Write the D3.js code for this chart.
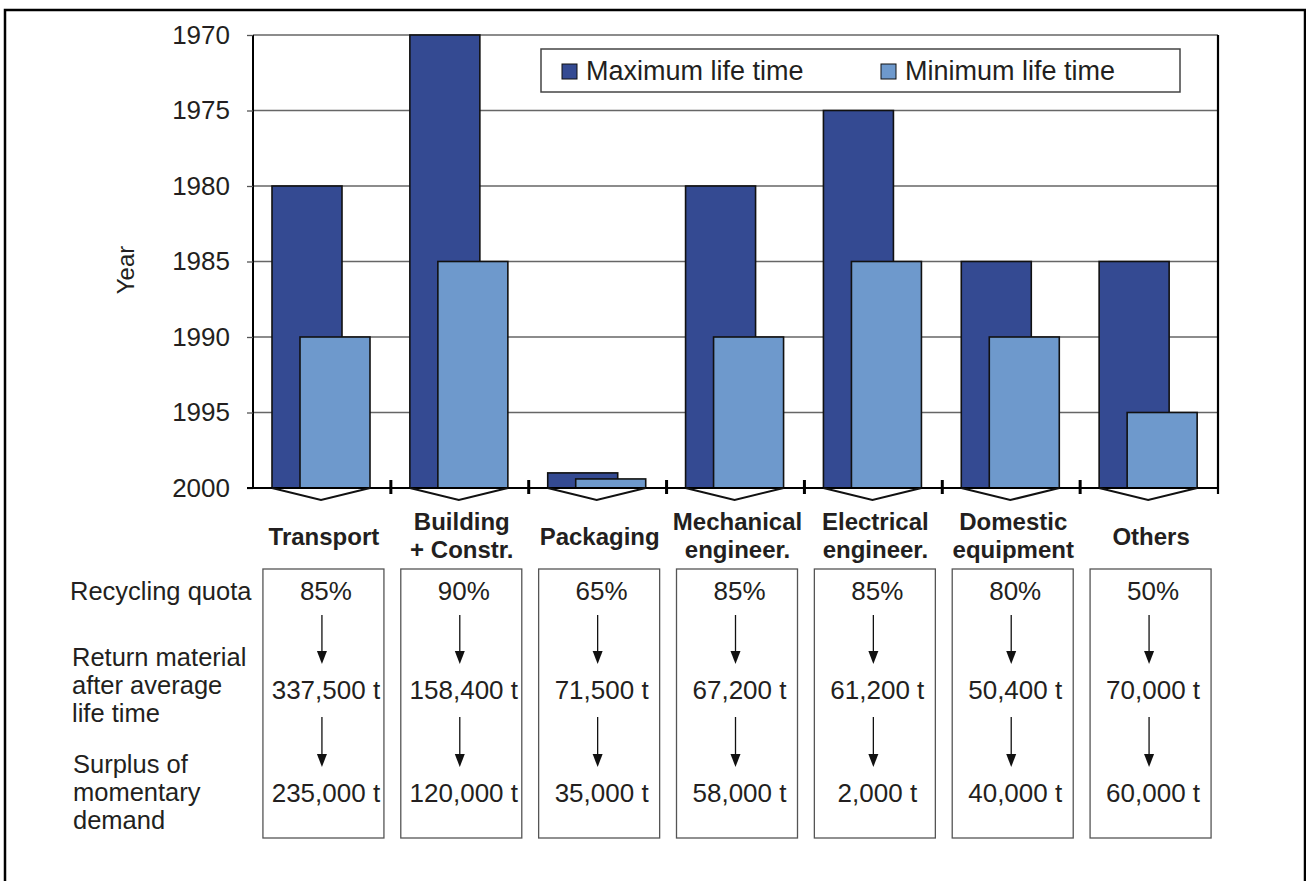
<!DOCTYPE html>
<html>
<head>
<meta charset="utf-8">
<script src="https://cdn.jsdelivr.net/npm/d3@7"></script>
<style>
  body { margin: 0; background: #fff; }
  svg { display: block; font-family: Arial, 'Liberation Sans', sans-serif; }
</style>
</head>
<body>
<div id="chart"></div>
<script>
'use strict'

var categories = [
  ['Transport'],
  ['Building', '+ Constr.'],
  ['Packaging'],
  ['Mechanical', 'engineer.'],
  ['Electrical', 'engineer.'],
  ['Domestic', 'equipment'],
  ['Others']
]
var maxLifeTime = [1980, 1970, 1999, 1980, 1975, 1985, 1985]
var minLifeTime = [1990, 1985, 1999.4, 1990, 1985, 1990, 1995]
var yearTicks = [1970, 1975, 1980, 1985, 1990, 1995, 2000]
var recyclingQuota = ['85%', '90%', '65%', '85%', '85%', '80%', '50%']
var returnMaterial = ['337,500 t', '158,400 t', '71,500 t', '67,200 t', '61,200 t', '50,400 t', '70,000 t']
var surplus = ['235,000 t', '120,000 t', '35,000 t', '58,000 t', '2,000 t', '40,000 t', '60,000 t']
var seriesNames = ['Maximum life time', 'Minimum life time']
var rowLabels = [
  ['Recycling quota'],
  ['Return material', 'after average', 'life time'],
  ['Surplus of', 'momentary', 'demand']
]

var colors = ['#344a92', '#6e99cc']
var ink = '#231f20'

var W = 1306
var H = 881
var plot = { left: 253, right: 1218, top: 35, bottom: 488 }

var svg = d3.select('#chart')
  .append('svg')
  .attr('width', W)
  .attr('height', H)

// outer frame (bottom edge runs off the page)
svg.append('rect')
  .attr('x', 5)
  .attr('y', 10)
  .attr('width', 1300)
  .attr('height', 900)
  .attr('fill', 'none')
  .attr('stroke', '#000')
  .attr('stroke-width', 2.5)

var keys = d3.range(categories.length)

var x = d3.scaleBand()
  .domain(keys)
  .range([plot.left, plot.right])

var y = d3.scaleLinear()
  .domain([1970, 2000])
  .range([plot.top, plot.bottom])

// bars overlap inside each band
var sub = d3.scaleOrdinal().domain([0, 1]).range([19, 47])
var barW = 70

// gridlines
svg.append('g')
  .selectAll('line')
  .data(yearTicks.slice(0, -1))
  .enter()
  .append('line')
  .attr('x1', plot.left)
  .attr('x2', plot.right)
  .attr('y1', function(d) { return y(d) })
  .attr('y2', function(d) { return y(d) })
  .attr('stroke', '#666')
  .attr('stroke-width', 1.3)

// y axis
var yAxis = svg.append('g')
  .attr('transform', 'translate(' + plot.left + ',0)')
  .call(d3.axisLeft(y).tickValues(yearTicks).tickFormat(d3.format('d')).tickSize(6).tickPadding(17))
yAxis.select('.domain').attr('stroke', '#000').attr('stroke-width', 2).attr('d', 'M0,' + plot.top + 'V' + plot.bottom)
yAxis.selectAll('.tick line').attr('stroke', '#555').attr('stroke-width', 1.3)
yAxis.selectAll('text')
  .attr('font-size', '26px')
  .attr('font-family', 'Arial, Liberation Sans, sans-serif')
  .attr('fill', ink)

svg.append('text')
  .attr('transform', 'translate(134,270) rotate(-90)')
  .attr('text-anchor', 'middle')
  .attr('font-size', '24px')
  .attr('fill', ink)
  .text('Year')

// bars
var series = [maxLifeTime, minLifeTime]
series.forEach(function(values, s) {
  svg.append('g')
    .selectAll('rect')
    .data(values)
    .enter()
    .append('rect')
    .attr('x', function(d, i) { return x(i) + sub(s) })
    .attr('y', function(d) { return y(d) })
    .attr('width', barW)
    .attr('height', function(d) { return y(2000) - y(d) })
    .attr('fill', colors[s])
    .attr('stroke', '#111')
    .attr('stroke-width', 1.6)
})

// right edge of plot
svg.append('line')
  .attr('x1', plot.right).attr('x2', plot.right)
  .attr('y1', plot.top).attr('y2', plot.bottom + 6)
  .attr('stroke', '#000')
  .attr('stroke-width', 2.2)

// x axis with category separators
svg.append('line')
  .attr('x1', plot.left - 6).attr('x2', plot.right)
  .attr('y1', plot.bottom).attr('y2', plot.bottom)
  .attr('stroke', '#000')
  .attr('stroke-width', 2)

svg.append('g')
  .selectAll('line')
  .data(keys.slice(1))
  .enter()
  .append('line')
  .attr('x1', function(d) { return x(d) })
  .attr('x2', function(d) { return x(d) })
  .attr('y1', plot.bottom - 8)
  .attr('y2', plot.bottom + 6)
  .attr('stroke', '#000')
  .attr('stroke-width', 3)

// chevrons under each pair of bars
svg.append('g')
  .selectAll('path')
  .data(keys)
  .enter()
  .append('path')
  .attr('d', function(i) {
    var a = x(i) + sub(0)
    var b = x(i) + sub(1) + barW
    return 'M' + a + ',' + plot.bottom + 'L' + (a + b) / 2 + ',' + (plot.bottom + 12) + 'L' + b + ',' + plot.bottom
  })
  .attr('fill', 'none')
  .attr('stroke', '#111')
  .attr('stroke-width', 2)

// category labels
var cat = svg.append('g')
  .selectAll('text')
  .data(categories)
  .enter()
  .append('text')
  .attr('text-anchor', 'middle')
  .attr('font-size', '24px')
  .attr('font-weight', 'bold')
  .attr('fill', ink)
  .attr('transform', function(d, i) {
    return 'translate(' + (x(i) + x.bandwidth() / 2 + 2) + ',' + (d.length > 1 ? 530 : 545) + ')'
  })
cat.selectAll('tspan')
  .data(function(d) { return d })
  .enter()
  .append('tspan')
  .attr('x', 0)
  .attr('dy', function(d, j) { return j ? 28 : 0 })
  .text(function(d) { return d })

// legend
var legend = svg.append('g')
legend.append('rect')
  .attr('x', 541).attr('y', 49)
  .attr('width', 639).attr('height', 43)
  .attr('fill', '#fff')
  .attr('stroke', '#444')
  .attr('stroke-width', 1.5)
var legX = [562, 881]
seriesNames.forEach(function(name, s) {
  legend.append('rect')
    .attr('x', legX[s]).attr('y', 64)
    .attr('width', 15).attr('height', 15)
    .attr('fill', colors[s])
    .attr('stroke', '#111')
    .attr('stroke-width', 1)
  legend.append('text')
    .attr('x', legX[s] + 24).attr('y', 80)
    .attr('font-size', '27px')
    .attr('fill', ink)
    .text(name)
})

// table below the chart
var rowY = [600, 699, 802]
var rows = [recyclingQuota, returnMaterial, surplus]

svg.append('g')
  .selectAll('rect')
  .data(keys)
  .enter()
  .append('rect')
  .attr('x', function(i) { return x(i) + x.bandwidth() / 2 - 59 })
  .attr('y', 569)
  .attr('width', 121)
  .attr('height', 269)
  .attr('fill', 'none')
  .attr('stroke', '#555')
  .attr('stroke-width', 1.3)

rows.forEach(function(values, r) {
  svg.append('g')
    .selectAll('text')
    .data(values)
    .enter()
    .append('text')
    .attr('x', function(d, i) { return x(i) + x.bandwidth() / 2 + 4 })
    .attr('y', rowY[r])
    .attr('text-anchor', 'middle')
    .attr('font-size', '26px')
    .attr('fill', ink)
    .text(function(d) { return d })
})

// arrows between the rows
var arrowSpans = [[615, 664], [717, 767]]
arrowSpans.forEach(function(span) {
  var g = svg.append('g')
    .selectAll('g')
    .data(keys)
    .enter()
    .append('g')
    .attr('transform', function(i) { return 'translate(' + (x(i) + x.bandwidth() / 2) + ',0)' })
  g.append('line')
    .attr('x1', 0).attr('x2', 0)
    .attr('y1', span[0]).attr('y2', span[1] - 12)
    .attr('stroke', '#111')
    .attr('stroke-width', 1.3)
  g.append('path')
    .attr('d', 'M-5,' + (span[1] - 13) + 'L5,' + (span[1] - 13) + 'L0,' + span[1] + 'Z')
    .attr('fill', '#111')
})

// row labels on the left
var rowLabelY = [600, 666, 773]
var rowLabelX = [70, 72, 73]
rowLabels.forEach(function(lines, r) {
  svg.append('text')
    .attr('font-size', '25.5px')
    .attr('fill', ink)
    .selectAll('tspan')
    .data(lines)
    .enter()
    .append('tspan')
    .attr('x', rowLabelX[r])
    .attr('y', function(d, j) { return rowLabelY[r] + j * 28 })
    .text(function(d) { return d })
})
</script>
</body>
</html>
